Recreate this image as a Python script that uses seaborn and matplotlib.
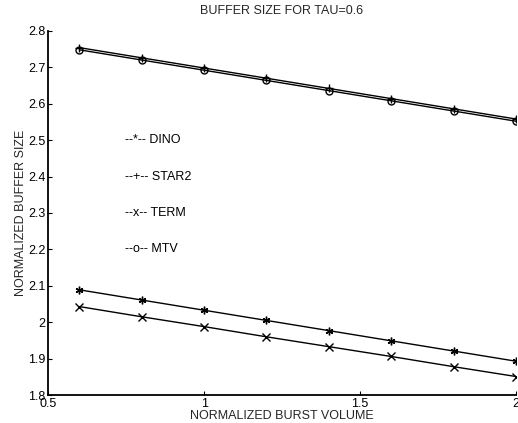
import matplotlib
matplotlib.use("Agg")
import matplotlib.pyplot as plt
import seaborn as sns
import pandas as pd

burst = [0.6, 0.8, 1.0, 1.2, 1.4, 1.6, 1.8, 2.0]
dino = [2.089, 2.061, 2.033, 2.005, 1.977, 1.949, 1.921, 1.893]
star2 = [2.754, 2.726, 2.698, 2.670, 2.642, 2.614, 2.586, 2.558]
term = [2.043, 2.015, 1.988, 1.960, 1.933, 1.906, 1.878, 1.851]
mtv = [2.748, 2.720, 2.692, 2.664, 2.636, 2.608, 2.580, 2.552]
series_names = ["DINO", "STAR2", "TERM", "MTV"]
series_values = [dino, star2, term, mtv]
series_markers = [(6, 2, 0), "+", "x", "o"]
legend_labels = ["--*-- DINO", "--+-- STAR2", "--x-- TERM", "--o-- MTV"]
legend_y = [2.5, 2.4, 2.3, 2.2]
xticks = [0.5, 1, 1.5, 2]
xtick_labels = ["0.5", "1", "1.5", "2"]
yticks = [1.8, 1.9, 2.0, 2.1, 2.2, 2.3, 2.4, 2.5, 2.6, 2.7, 2.8]
ytick_labels = ["1.8", "1.9", "2", "2.1", "2.2", "2.3", "2.4", "2.5", "2.6", "2.7", "2.8"]

sns.set_theme(style="ticks")
plt.rcParams["font.family"] = ["Liberation Sans", "DejaVu Sans"]
FS = 9

fig = plt.figure(figsize=(5.18, 4.23), dpi=100)
ax = fig.add_axes([0.093, 0.066, 0.903, 0.861])

for name, vals, mk in zip(series_names, series_values, series_markers):
    d = pd.DataFrame({"burst": burst, "size": vals})
    kw = dict(marker=mk, markersize=5.5, markeredgewidth=1.0, markeredgecolor="black")
    if mk == "o":
        kw["markerfacecolor"] = "none"
        kw["markersize"] = 5
    sns.lineplot(data=d, x="burst", y="size", color="black", linewidth=1.0,
                 ax=ax, **kw)

for lab, yy in zip(legend_labels, legend_y):
    ax.text(0.747, yy, lab, fontsize=FS, va="center", ha="left", color="black",
            fontweight="medium")

ax.set_xlim(0.5, 2)
ax.set_ylim(1.8, 2.8)
ax.set_xticks(xticks)
ax.set_xticklabels(xtick_labels, fontsize=FS)
ax.set_yticks(yticks)
ax.set_yticklabels(ytick_labels, fontsize=FS)
ax.tick_params(direction="in", length=3, width=0.8, pad=2, colors="black")
sns.despine(ax=ax)
for s in ["left", "bottom"]:
    ax.spines[s].set_color("black")
    ax.spines[s].set_linewidth(1.3)
ax.set_xlabel("NORMALIZED BURST VOLUME", fontsize=FS, labelpad=0)
ax.set_ylabel("NORMALIZED BUFFER SIZE", fontsize=FS, labelpad=1)
ax.set_title("BUFFER SIZE FOR TAU=0.6", fontsize=FS, pad=12)

fig.savefig("out.png", dpi=100)
